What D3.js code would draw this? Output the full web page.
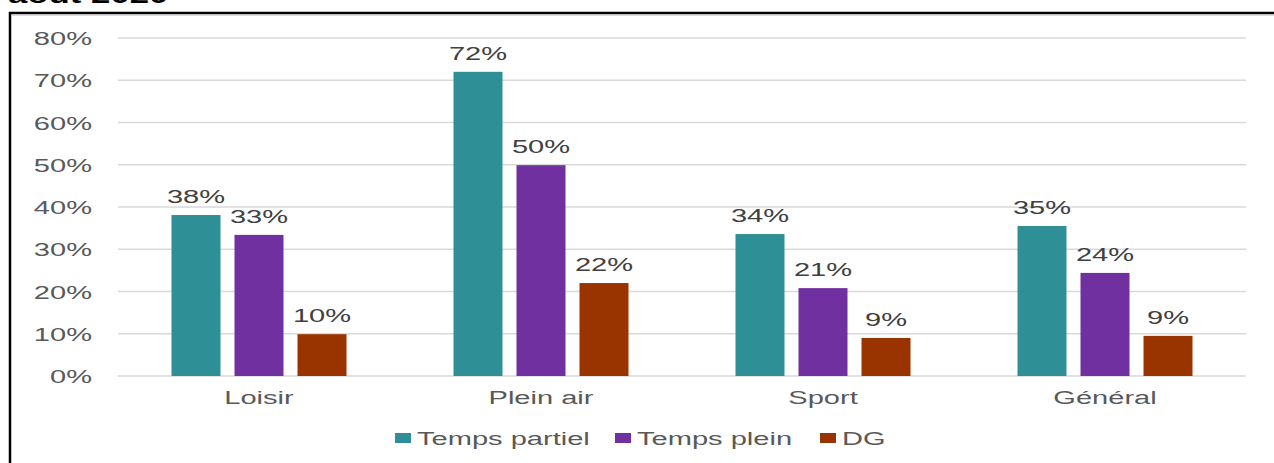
<!DOCTYPE html>
<html><head><meta charset="utf-8">
<script src="https://cdn.jsdelivr.net/npm/d3@7"></script>
<style>html,body{margin:0;padding:0;background:#fff;}svg{display:block;font-family:"Liberation Sans",Arial,sans-serif;}</style>
</head><body>
<script>
const categories = ["Loisir", "Plein air", "Sport", "Général"];
const seriesNames = ["Temps partiel", "Temps plein", "DG"];
const tempsPartiel = [38.1, 72.0, 33.6, 35.5];
const tempsPlein = [33.4, 49.9, 20.8, 24.4];
const dg = [9.9, 22.0, 9.0, 9.5];
const labelsPartiel = ["38%", "72%", "34%", "35%"];
const labelsPlein = ["33%", "50%", "21%", "24%"];
const labelsDG = ["10%", "22%", "9%", "9%"];
const yTicks = [0, 10, 20, 30, 40, 50, 60, 70, 80];
const colors = ["#2E9096", "#7030A0", "#993300"];

const values = [tempsPartiel, tempsPlein, dg];
const labels = [labelsPartiel, labelsPlein, labelsDG];
const W = 1274, H = 463, SX = 1.53;

const svg = d3.select("body").append("svg").attr("width", W).attr("height", H);

// cut-off title (partially above the page edge, as in the reference)
svg.append("text").attr("transform", `translate(8,3) scale(1.45,1)`)
  .attr("font-size", 24).attr("font-weight", "bold").attr("fill", "#000").text("août 2020");

// frame
svg.append("path").attr("d", "M10,475 V13 H1280").attr("fill", "none").attr("stroke", "#000").attr("stroke-width", 2.5);
svg.append("line").attr("x1", 11.5).attr("x2", 1280).attr("y1", 15.5).attr("y2", 15.5).attr("stroke", "#ddd").attr("stroke-width", 1);

const x0 = d3.scaleBand().domain(categories).range([118, 1246]).padding(0);
const x1 = d3.scaleBand().domain(seriesNames).range([0, x0.bandwidth()]).paddingInner(14 / 63).paddingOuter(53.5 / 63);
const y = d3.scaleLinear().domain([0, 80]).range([376, 38]);

// gridlines
svg.append("g").selectAll("line").data(yTicks).join("line")
  .attr("x1", 118).attr("x2", 1246)
  .attr("y1", d => y(d)).attr("y2", d => y(d))
  .attr("stroke", "#d9d9d9").attr("stroke-width", 1.5);

// y tick labels
svg.append("g").selectAll("text").data(yTicks).join("text")
  .attr("transform", d => `translate(92,${y(d) + 7}) scale(${SX},1)`)
  .attr("text-anchor", "end").attr("font-size", 19).attr("fill", "#595959")
  .text(d => d + "%");

// bars
seriesNames.forEach((s, si) => {
  const g = svg.append("g");
  g.selectAll("rect").data(categories).join("rect")
    .attr("x", c => x0(c) + x1(s))
    .attr("width", x1.bandwidth())
    .attr("y", (c, i) => y(values[si][i]))
    .attr("height", (c, i) => y(0) - y(values[si][i]))
    .attr("fill", colors[si]);
  g.selectAll("text").data(categories).join("text")
    .attr("transform", (c, i) => `translate(${x0(c) + x1(s) + x1.bandwidth() / 2},${y(values[si][i]) - 12}) scale(${SX},1)`)
    .attr("text-anchor", "middle").attr("font-size", 19).attr("fill", "#404040")
    .text((c, i) => labels[si][i]);
});

// category labels
svg.append("g").selectAll("text").data(categories).join("text")
  .attr("transform", c => `translate(${x0(c) + x0.bandwidth() / 2},404) scale(${SX},1)`)
  .attr("text-anchor", "middle").attr("font-size", 19).attr("fill", "#595959")
  .text(c => c);

// legend
const legendX = [395, 615, 820];
const lg = svg.append("g").selectAll("g").data(seriesNames).join("g")
  .attr("transform", (d, i) => `translate(${legendX[i]},0)`);
lg.append("rect").attr("x", 0).attr("y", 433).attr("width", 16).attr("height", 10).attr("fill", (d, i) => colors[i]);
lg.append("text").attr("transform", `translate(22,445) scale(${SX},1)`)
  .attr("font-size", 19).attr("fill", "#595959").text(d => d);
</script>
</body></html>
